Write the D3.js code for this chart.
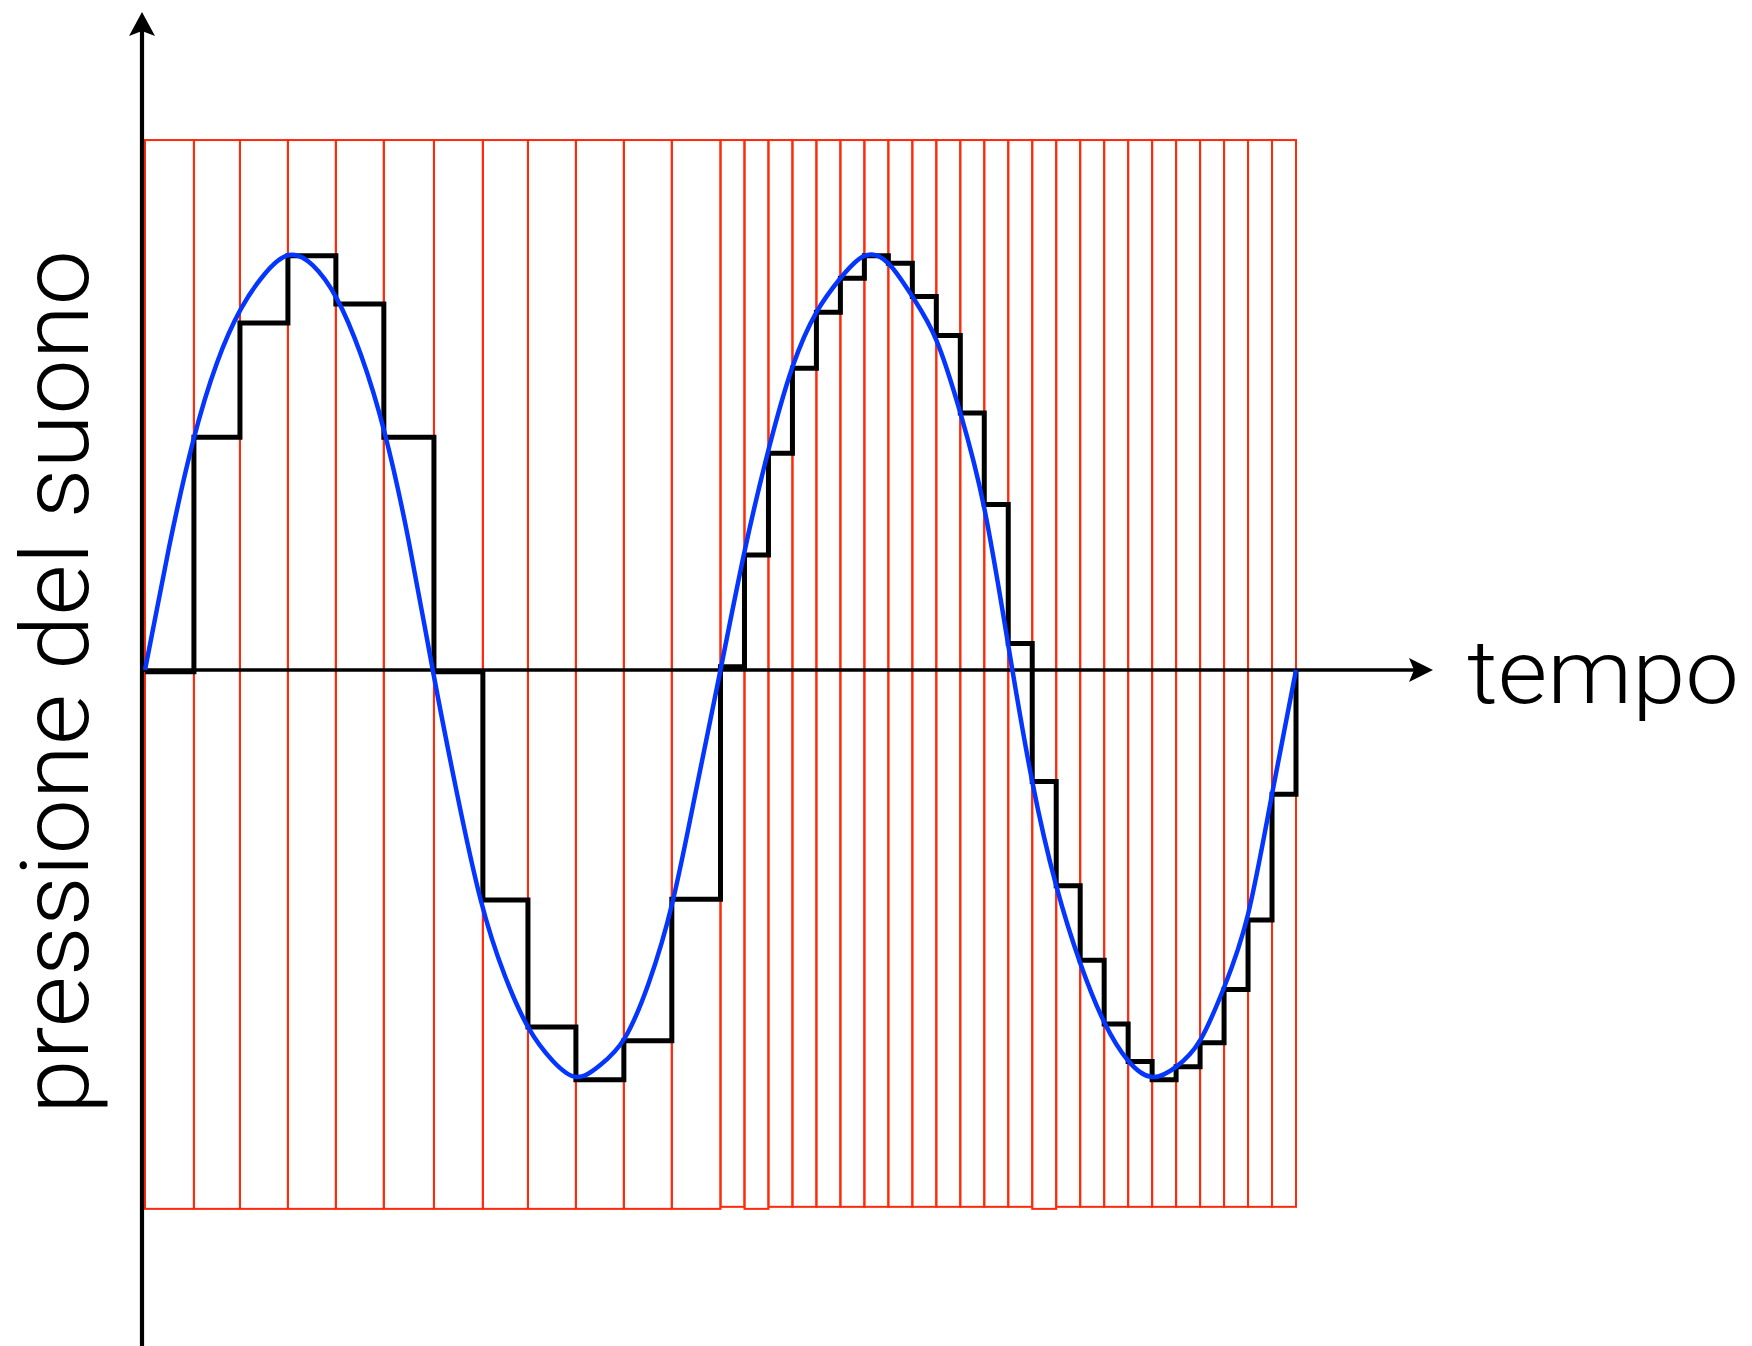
<!DOCTYPE html>
<html>
<head>
<meta charset="utf-8">
<script src="https://cdn.jsdelivr.net/npm/d3@7/dist/d3.min.js"></script>
<style>
  html, body { margin: 0; padding: 0; background: #ffffff; }
  svg { display: block; }
</style>
</head>
<body>
<script>
// ---------------- DATA ----------------
// sampling instants (time units; 1 unit = one fine sample step)
const sampleTimes = [0, 2.04, 3.96, 5.96, 7.96, 9.96, 12.05, 14.09, 15.97, 17.97, 19.97, 21.97,
  24, 25, 26, 27, 28, 29, 30, 31, 32, 33, 34, 35, 36, 37, 38, 39, 40, 41, 42, 43, 44, 45, 46, 47, 48];

// value held after each sampling instant (sample & hold, black staircase)
const heldValues = [-0.004, 0.561, 0.836, 0.998, 0.882, 0.561, -0.004, -0.565, -0.877, -1.007, -0.911, -0.563,
  0.008, 0.277, 0.522, 0.727, 0.862, 0.944, 0.998, 0.980, 0.900, 0.806, 0.619, 0.399,
  0.064, -0.274, -0.530, -0.713, -0.870, -0.962, -1.007, -0.975, -0.916, -0.785, -0.614, -0.305];
const finalValue = 0;

// continuous sound pressure (blue curve), read at every time unit 0..48
const waveTimes = [0, 1, 2, 3, 4, 5, 6, 7, 8, 9, 10, 11, 12, 13, 14, 15, 16, 17, 18, 19, 20, 21, 22, 23, 24,
  25, 26, 27, 28, 29, 30, 31, 32, 33, 34, 35, 36, 37, 38, 39, 40, 41, 42, 43, 44, 45, 46, 47, 48];
const waveValues = [0, 0.295, 0.55, 0.74, 0.87, 0.955, 1.0, 0.975, 0.895, 0.76, 0.57, 0.31, 0,
  -0.30, -0.565, -0.75, -0.88, -0.96, -1.0, -0.97, -0.905, -0.77, -0.57, -0.29, 0,
  0.285, 0.53, 0.73, 0.862, 0.944, 0.998, 0.98, 0.90, 0.795, 0.62, 0.39, 0.06,
  -0.274, -0.53, -0.72, -0.865, -0.96, -1.0, -0.975, -0.91, -0.78, -0.60, -0.305, 0];

// sampling cells (red): common top and per-cell floor, in pressure units
const cellTop = 1.277;
const cellFloor = [-1.324, -1.324, -1.324, -1.324, -1.324, -1.324, -1.324, -1.324, -1.324, -1.324, -1.324, -1.324,
  -1.319, -1.324, -1.319, -1.319, -1.319, -1.319, -1.319, -1.319, -1.319, -1.319, -1.319, -1.319,
  -1.319, -1.324, -1.319, -1.319, -1.319, -1.319, -1.319, -1.319, -1.319, -1.319, -1.319, -1.319];

const xLabel = "tempo";
const yLabel = "pressione del suono";

// ---------------- DRAWING ----------------
const W = 1752, H = 1346;
const svg = d3.select("body").append("svg").attr("width", W).attr("height", H);

const x = d3.scaleLinear().domain([0, 48]).range([145, 1296]);
const y = d3.scaleLinear().domain([-1, 0, 1]).range([1077, 670, 255]);

const red = "#ff2a0a";
const blue = "#0536ff";

// red sampling cells
const cells = d3.range(sampleTimes.length - 1).map(i => ({
  t0: sampleTimes[i], t1: sampleTimes[i + 1], floor: cellFloor[i]
}));
svg.append("g").selectAll("rect").data(cells).join("rect")
  .attr("x", d => x(d.t0))
  .attr("y", y(cellTop))
  .attr("width", d => x(d.t1) - x(d.t0))
  .attr("height", d => y(d.floor) - y(cellTop))
  .attr("fill", "none")
  .attr("stroke", red)
  .attr("stroke-width", 2);

// axes
const axisX0 = x(0) - 3;
const yTip = 12, xTip = 1433;
const axes = svg.append("g").attr("stroke", "#000").attr("fill", "none");
axes.append("line").attr("x1", axisX0).attr("x2", axisX0).attr("y1", H).attr("y2", yTip + 10)
  .attr("stroke-width", 4.2);
axes.append("line").attr("x1", axisX0).attr("x2", xTip - 10).attr("y1", y(0)).attr("y2", y(0))
  .attr("stroke-width", 3.4);
svg.append("path")
  .attr("d", `M${axisX0},${yTip} L${axisX0 + 13},${yTip + 24} L${axisX0},${yTip + 19} L${axisX0 - 13},${yTip + 24} Z`)
  .attr("fill", "#000");
svg.append("path")
  .attr("d", `M${xTip},${y(0)} L${xTip - 24},${y(0) - 12} L${xTip - 19},${y(0)} L${xTip - 24},${y(0) + 12} Z`)
  .attr("fill", "#000");

// black sample & hold staircase
const stepPts = sampleTimes.slice(0, heldValues.length).map((t, i) => [t, heldValues[i]]);
stepPts.push([sampleTimes[sampleTimes.length - 1], finalValue]);
svg.append("path")
  .datum(stepPts)
  .attr("d", d3.line().x(d => x(d[0])).y(d => y(d[1])).curve(d3.curveStepAfter))
  .attr("fill", "none")
  .attr("stroke", "#000")
  .attr("stroke-width", 5)
  .attr("stroke-linejoin", "miter");

// blue continuous wave
svg.append("path")
  .datum(waveTimes.map((t, i) => [t, waveValues[i]]))
  .attr("d", d3.line().x(d => x(d[0])).y(d => y(d[1])).curve(d3.curveNatural))
  .attr("fill", "none")
  .attr("stroke", blue)
  .attr("stroke-width", 4.5);

// labels
svg.append("text")
  .text(xLabel)
  .attr("x", 1467)
  .attr("y", 703)
  .attr("font-family", "Roboto, 'Liberation Sans', sans-serif")
  .attr("font-weight", 300)
  .attr("font-size", 89)
  .attr("textLength", 272)
  .attr("lengthAdjust", "spacingAndGlyphs")
  .attr("fill", "#000");

svg.append("text")
  .text(yLabel)
  .attr("transform", "translate(88,682) rotate(-90)")
  .attr("text-anchor", "middle")
  .attr("font-family", "Roboto, 'Liberation Sans', sans-serif")
  .attr("font-weight", 300)
  .attr("font-size", 95)
  .attr("textLength", 864)
  .attr("lengthAdjust", "spacingAndGlyphs")
  .attr("fill", "#000");
</script>
</body>
</html>
